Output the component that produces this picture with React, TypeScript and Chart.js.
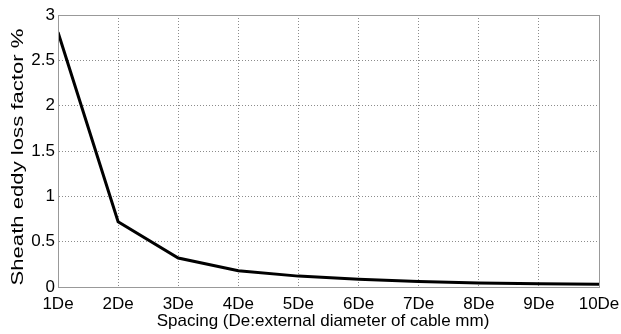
import React, { useEffect, useRef } from "react";
import { Chart, registerables } from "chart.js";

Chart.register(...registerables);

const spacing = [1, 2, 3, 4, 5, 6, 7, 8, 9, 10];
const lossFactor = [2.81, 0.72, 0.32, 0.18, 0.12, 0.085, 0.06, 0.045, 0.035, 0.03];
const yTicks = [0, 0.5, 1, 1.5, 2, 2.5, 3];
const xTitle = "Spacing (De:external diameter of cable mm)";
const yTitle = "Sheath eddy loss factor %";

const FONT = "'Liberation Sans', Arial, sans-serif";

const frame = {
  id: "frame",
  afterDraw(chart: any) {
    const { ctx, chartArea } = chart;
    ctx.save();
    ctx.strokeStyle = "#999999";
    ctx.lineWidth = 1;
    ctx.setLineDash([]);
    ctx.strokeRect(
      Math.round(chartArea.left) + 0.5,
      Math.round(chartArea.top) + 0.5,
      Math.round(chartArea.right - chartArea.left),
      Math.round(chartArea.bottom - chartArea.top)
    );
    ctx.fillStyle = "#000";
    // horizontal axis title
    ctx.font = `17px ${FONT}`;
    ctx.textAlign = "center";
    ctx.textBaseline = "alphabetic";
    ctx.fillText(xTitle, 323, 326);
    // stretched vertical axis title
    ctx.textBaseline = "middle";
    const w = ctx.measureText(yTitle).width;
    const target = 257;
    ctx.translate(18, 157);
    ctx.rotate(-Math.PI / 2);
    ctx.scale(target / w, 1);
    ctx.fillText(yTitle, 0, 0);
    ctx.restore();
  },
};

export default function App() {
  const ref = useRef<HTMLCanvasElement>(null);
  useEffect(() => {
    if (!ref.current) return;
    const chart = new Chart(ref.current, {
      type: "line",
      data: {
        datasets: [
          {
            data: spacing.map((x, i) => ({ x, y: lossFactor[i] })),
            borderColor: "#000000",
            borderWidth: 3,
            pointRadius: 0,
            tension: 0,
            fill: false,
          },
        ],
      },
      options: {
        animation: false,
        responsive: false,
        maintainAspectRatio: false,
        layout: { padding: { top: 15, right: 22, left: 0, bottom: 0 } },
        plugins: { legend: { display: false }, tooltip: { enabled: false } },
        scales: {
          x: {
            type: "linear",
            min: 1,
            max: 10,
            afterFit: (s: any) => {
              s.height = 47;
              s.paddingLeft = 0;
              s.paddingRight = 0;
            },
            afterBuildTicks: (s: any) => {
              s.ticks = spacing.map((v) => ({ value: v }));
            },
            ticks: {
              color: "#000",
              font: { family: FONT, size: 17 },
              padding: 7,
              maxRotation: 0,
              autoSkip: false,
              callback: (v: any) => `${v}De`,
            },
            grid: { color: "#8c8c8c", drawTicks: false, lineWidth: 1 },
            border: { display: true, color: "#999999", dash: [1, 2] },
            title: { display: false },
          },
          y: {
            type: "linear",
            min: 0,
            max: 3,
            afterFit: (s: any) => {
              s.width = 58;
              s.paddingTop = 0;
              s.paddingBottom = 0;
            },
            afterBuildTicks: (s: any) => {
              s.ticks = yTicks.map((v) => ({ value: v }));
            },
            ticks: {
              color: "#000",
              font: { family: FONT, size: 17 },
              padding: 3,
              autoSkip: false,
              callback: (v: any) => `${v}`,
            },
            grid: { color: "#8c8c8c", drawTicks: false, lineWidth: 1 },
            border: { display: true, color: "#999999", dash: [1, 2] },
            title: { display: false },
          },
        },
      },
      plugins: [frame],
    } as any);
    return () => chart.destroy();
  }, []);
  return (
    <div style={{ position: "absolute", left: 0, top: 0, width: 621, height: 334, background: "#fff" }}>
      <canvas ref={ref} width={621} height={334} style={{ width: 621, height: 334 }} />
    </div>
  );
}
